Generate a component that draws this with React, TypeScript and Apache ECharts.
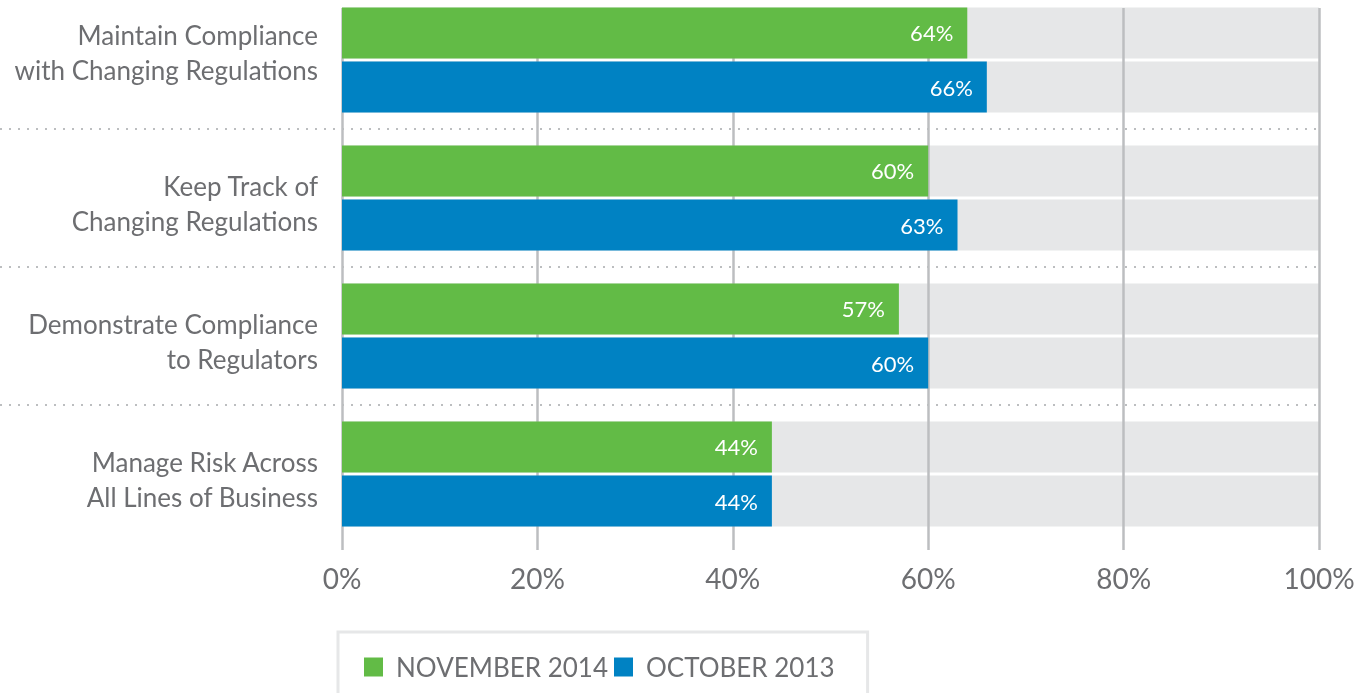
import React, { useEffect, useRef } from "react";
import * as echarts from "echarts";

const categories = [
  "Maintain Compliance\nwith Changing Regulations",
  "Keep Track of\nChanging Regulations",
  "Demonstrate Compliance\nto Regulators",
  "Manage Risk Across\nAll Lines of Business",
];
const nov2014 = [64, 60, 57, 44];
const oct2013 = [66, 63, 60, 44];
const fullScale = [100, 100, 100, 100];
const seriesNames = ["NOVEMBER 2014", "OCTOBER 2013"];

const FONT = "Lato";
const TEXT = "#6d6e71";
const GRID = "#bcbec0";
const GREEN = "#62bb46";
const BLUE = "#0082c3";
const BG = "#e6e7e8";

export default function App() {
  const ref = useRef<HTMLDivElement>(null);
  useEffect(() => {
    if (!ref.current) return;
    const chart = echarts.init(ref.current, undefined, { renderer: "svg" });
    const barCommon = { barWidth: 51, barGap: "6%" };
    const valueLabel = {
      show: true,
      position: "insideRight",
      distance: 14,
      formatter: "{c}%",
      color: "#ffffff",
      fontFamily: FONT,
      fontSize: 22,
    };
    const labelFormatter = (value: string, index: number) => {
      const body = value
        .split("\n")
        .map((l) => `{t|${l}}`)
        .join("\n");
      return index === 0 ? `${body}\n{s2| }` : `{s1| }\n${body}`;
    };
    chart.setOption({
      animation: false,
      grid: {
        left: 342,
        right: 43,
        top: -9,
        bottom: 150,
        containLabel: false,
        outerBoundsMode: "none",
      },
      legend: {
        data: seriesNames,
        left: 338,
        top: 632,
        orient: "horizontal",
        icon: "rect",
        itemWidth: 19,
        itemHeight: 19,
        itemGap: 6,
        selectedMode: false,
        borderColor: BG,
        borderWidth: 3,
        padding: [22, 33, 40, 26],
        textStyle: { fontFamily: FONT, fontSize: 26, color: TEXT, padding: [0, 0, 0, 8] },
      },
      xAxis: {
        type: "value",
        min: 0,
        max: 100,
        interval: 20,
        offset: 7,
        z: 2,
        axisLine: { show: false },
        splitLine: { show: false },
        axisTick: { show: true, inside: true, length: 542, lineStyle: { color: GRID, width: 2.5 } },
        axisLabel: {
          formatter: "{value}%",
          fontFamily: FONT,
          fontSize: 28,
          color: TEXT,
          margin: 14,
        },
      },
      yAxis: [
        {
          type: "category",
          inverse: true,
          data: categories,
          axisLine: { show: false },
          axisTick: { show: false },
          splitLine: { show: false },
          axisLabel: {
            fontFamily: FONT,
            fontSize: 26,
            lineHeight: 35,
            color: TEXT,
            margin: 24,
            align: "right",
            formatter: labelFormatter,
            rich: {
              t: { fontFamily: FONT, fontSize: 26, lineHeight: 35, color: TEXT },
              s1: { fontSize: 1, lineHeight: 10 },
              s2: { fontSize: 1, lineHeight: 16 },
            },
          },
        },
        {
          type: "category",
          inverse: true,
          data: categories,
          show: false,
        },
      ],
      series: [
        {
          type: "bar",
          name: "bg1",
          yAxisIndex: 0,
          data: fullScale,
          itemStyle: { color: BG },
          silent: true,
          z: 1,
          ...barCommon,
        },
        {
          type: "bar",
          name: "bg2",
          yAxisIndex: 0,
          data: fullScale,
          itemStyle: { color: BG },
          silent: true,
          z: 1,
          ...barCommon,
        },
        {
          type: "bar",
          name: seriesNames[0],
          yAxisIndex: 1,
          data: nov2014,
          itemStyle: { color: GREEN },
          z: 3,
          label: valueLabel,
          ...barCommon,
        },
        {
          type: "bar",
          name: seriesNames[1],
          yAxisIndex: 1,
          data: oct2013,
          itemStyle: { color: BLUE },
          z: 3,
          label: valueLabel,
          ...barCommon,
        },
      ],
    });

    const ys = categories.map((_, i) => chart.convertToPixel({ yAxisIndex: 0 }, i) as number);
    const xEnd = chart.convertToPixel({ xAxisIndex: 0 }, 100) as number;
    const lines = [] as any[];
    for (let i = 0; i < ys.length - 1; i++) {
      const y = Math.round((ys[i] + ys[i + 1]) / 2);
      lines.push({
        type: "line",
        z: 0,
        silent: true,
        shape: { x1: 0, y1: y, x2: xEnd + 2, y2: y },
        style: { stroke: GRID, lineWidth: 2, lineDash: [2, 7] },
      });
    }
    chart.setOption({ graphic: lines });

    return () => chart.dispose();
  }, []);
  return (
    <div
      ref={ref}
      style={{ position: "fixed", left: 0, top: 0, width: 1362, height: 693 }}
    />
  );
}
